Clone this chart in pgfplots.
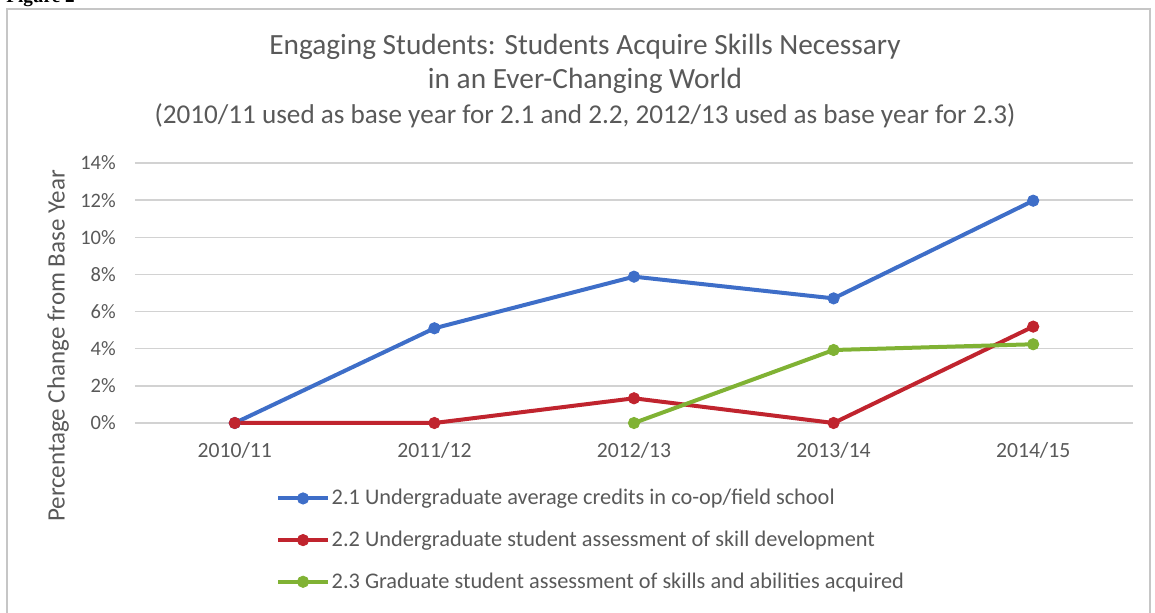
\documentclass[border=0pt]{standalone}
\usepackage{pgfplots}
\pgfplotsset{compat=1.18}
\usepackage{fontspec}
\setmainfont{Carlito}
\newfontfamily\figfont{Liberation Serif}
\definecolor{txt}{RGB}{89,89,89}
\definecolor{gridc}{RGB}{210,210,210}
\definecolor{sblue}{RGB}{62,110,200}
\definecolor{sred}{RGB}{192,36,46}
\definecolor{sgreen}{RGB}{128,178,52}
\begin{document}
\begin{tikzpicture}[x=0.6pt,y=0.6pt]
\useasboundingbox (0,0) rectangle (1155,613);
\draw[gray!45, line width=0.7pt] (7,-10) -- (7,604) -- (1150,604) -- (1150,-10);
\node[anchor=base west, inner sep=0pt, font=\figfont\bfseries\fontsize{11.5}{13}\selectfont] at (6,610) {Figure 2};
\node[text=txt, font=\fontsize{17.6}{20}\selectfont] at (585,566) {Engaging Students: Students Acquire Skills Necessary};
\node[text=txt, font=\fontsize{17.6}{20}\selectfont] at (585,532) {in an Ever-Changing World};
\node[text=txt, font=\fontsize{16.3}{19}\selectfont] at (585,497) {(2010/11 used as base year for 2.1 and 2.2, 2012/13 used as base year for 2.3)};
\node[text=txt, rotate=90, font=\fontsize{15}{17}\selectfont] at (58,267) {Percentage Change from Base Year};
\begin{axis}[
  at={(81pt,114pt)}, anchor=south west,
  scale only axis, width=598.8pt, height=156pt,
  xmin=-0.5, xmax=4.5, ymin=0, ymax=14,
  xtick={0,1,2,3,4},
  xticklabels={2010/11,2011/12,2012/13,2013/14,2014/15},
  ytick={0,2,4,6,8,10,12,14},
  yticklabel={\pgfmathprintnumber{\tick}\%},
  /pgf/number format/assume math mode=true,
  axis line style={draw=none},
  major tick length=0pt,
  ymajorgrids, grid style={gridc, line width=0.8pt},
  tick label style={text=txt},
  xticklabel style={yshift=-8pt, font=\fontsize{13}{15}\selectfont},
  yticklabel style={xshift=-8pt, font=\fontsize{12.3}{14}\selectfont},
  clip=false,
  legend cell align=left,
  legend style={at={(0.136,-0.235)}, anchor=north west, draw=none, fill=none,
    font=\fontsize{13.4}{15}\selectfont, text=txt, row sep=12.2pt,
    nodes={inner sep=1pt}},
  legend image code/.code={\draw[#1, mark repeat=2, mark phase=2] plot coordinates {(0pt,0pt) (15pt,0pt) (30pt,0pt)};},
  every axis plot/.append style={line width=2.4pt, mark=*, mark size=3.4pt},
]
\addplot[sblue, mark options={fill=sblue, draw=sblue, line width=0.5pt}] coordinates {(0,0) (1,5.1) (2,7.88) (3,6.71) (4,11.97)};
\addlegendentry{2.1 Undergraduate average credits in co-op/field school}
\addplot[sred, mark options={fill=sred, draw=sred, line width=0.5pt}] coordinates {(0,0) (1,0) (2,1.33) (3,0) (4,5.19)};
\addlegendentry{2.2 Undergraduate student assessment of skill development}
\addplot[sgreen, mark options={fill=sgreen, draw=sgreen, line width=0.5pt}] coordinates {(2,0) (3,3.93) (4,4.24)};
\addlegendentry{2.3 Graduate student assessment of skills and abilities acquired}
\end{axis}
\end{tikzpicture}
\end{document}
